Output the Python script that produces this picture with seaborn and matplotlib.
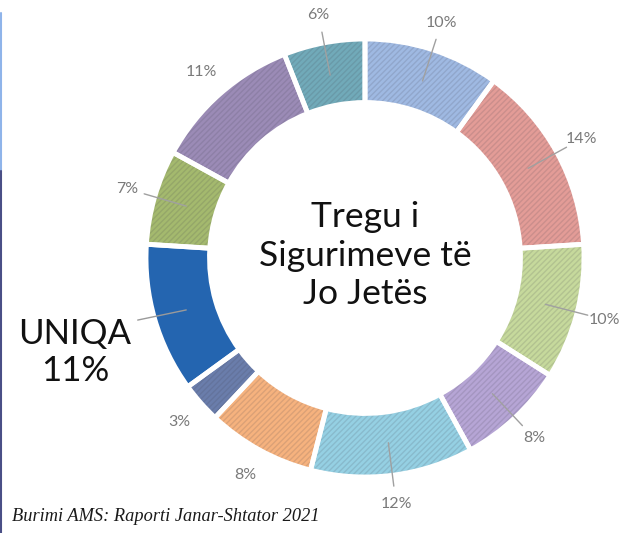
import numpy as np
import seaborn as sns
import matplotlib.pyplot as plt
from matplotlib.lines import Line2D

# Market shares, clockwise from 12 o'clock
shares = [10, 14, 10, 8, 12, 8, 3, 11, 7, 11, 6]
labels = ['10%', '14%', '10%', '8%', '12%', '8%', '3%', 'UNIQA\n11%', '7%', '11%', '6%']
colors = ['#9fb9e2', '#e39c97', '#c6d99c', '#b6a5d5', '#95d0e3', '#f6b27e',
          '#6a7dab', '#2465b0', '#a4b96e', '#9b8bb6', '#71aab9']
has_leader = [True, True, True, True, True, False, False, True, True, False, True]
highlight = 7

center_title = 'Tregu i\nSigurimeve të\nJo Jetës'
source = 'Burimi AMS: Raporti Janar-Shtator 2021'

sns.set_theme(style='white')
plt.rcParams['font.family'] = ['Lato', 'DejaVu Sans']

fig = plt.figure(figsize=(6.29, 5.33), dpi=100)
ax = fig.add_axes([0, 0, 1, 1])

# fill
ax.pie(shares, colors=colors, startangle=90, counterclock=False, radius=1,
       wedgeprops=dict(width=0.29, linewidth=0))
# faint texture on every slice except the highlighted one
hatch_wedges, _ = ax.pie(shares, colors=['none'] * len(shares), startangle=90,
                         counterclock=False, radius=1,
                         wedgeprops=dict(width=0.29, linewidth=0))
plt.rcParams['hatch.linewidth'] = 0.6
for i, w in enumerate(hatch_wedges):
    if i != highlight:
        w.set_hatch('//////')
        w.set_edgecolor((0.25, 0.25, 0.3, 0.15))
        w.set_linewidth(0)
# white separators
ax.pie(shares, colors=['none'] * len(shares), startangle=90, counterclock=False,
       radius=1, wedgeprops=dict(width=0.29, edgecolor='white', linewidth=3.5))

# labels with leader lines
cum = np.cumsum([0] + shares[:-1])
for i, (s, lab) in enumerate(zip(shares, labels)):
    ang = np.deg2rad(90 - (cum[i] + s / 2) * 3.6)
    dx, dy = np.cos(ang), np.sin(ang)
    if i == highlight:
        r_lab = 1.40
        ax.text(r_lab * dx + 0.02, r_lab * dy - 0.04, lab, ha='center', va='center',
                fontsize=25, color='#111111', linespacing=1.2)
        ax.plot([0.85 * dx, 1.06 * dx - 0.02], [0.85 * dy, 0.98 * dy - 0.01],
                color='#9a9a9a', lw=1)
        continue
    r_lab = 1.13
    ax.text(r_lab * dx, r_lab * dy, lab, ha='center', va='center',
            fontsize=11.5, color='#7a7a7a')
    if has_leader[i]:
        ax.plot([0.85 * dx, 1.05 * dx], [0.85 * dy, 1.05 * dy],
                color='#a0a0a0', lw=1)

ax.text(0, 0.01, center_title, ha='center', va='center', fontsize=25.5,
        color='#111111', linespacing=1.25)

ax.set_xlim(-365 / 219, 264 / 219)
ax.set_ylim(-275 / 219, 258 / 219)
ax.set_aspect('equal')
ax.axis('off')

fig.text(0.019, 0.022, source, fontsize=13.2, style='italic',
         family=['Liberation Serif', 'DejaVu Serif'], color='#1a1a1a')

# thin page edge line on the left
fig.add_artist(Line2D([0.002, 0.002], [0.68, 0.975], color='#8fb4ea', lw=1.5))
fig.add_artist(Line2D([0.002, 0.002], [0.0, 0.68], color='#4a4f86', lw=1.5))

fig.savefig('out.png', dpi=100)
